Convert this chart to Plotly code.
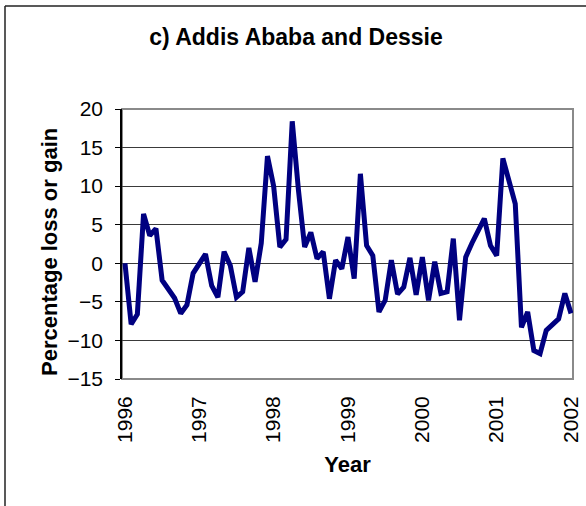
import plotly.graph_objects as go

# Monthly percentage loss or gain, Jan 1996 .. Jan 2002
values = [
    0.0, -7.9, -6.6, 6.4, 3.6, 4.5, -2.2, -3.5, -4.5, -6.5, -5.4, -1.3,
    0.0, 1.2, -2.9, -4.4, 1.5, -0.3, -4.4, -3.7, 2.0, -2.4, 2.6, 13.9,
    10.0, 2.1, 3.1, 18.4, 9.5, 2.1, 4.0, 0.6, 1.5, -4.6, 0.4, -0.7,
    3.4, -2.0, 11.6, 2.3, 1.0, -6.3, -4.8, 0.4, -4.0, -3.1, 0.7, -4.1,
    0.8, -4.8, 0.2, -3.9, -3.7, 3.2, -7.4, 0.8, 2.6, 4.2, 5.8, 2.3,
    1.0, 13.6, 10.5, 7.7, -8.3, -6.3, -11.3, -11.7, -8.7, -8.0, -7.2, -3.9,
    -6.5,
]
start_year = 1996
x_vals = [start_year + i / 12 for i in range(len(values))]
year_ticks = [1996, 1997, 1998, 1999, 2000, 2001, 2002]
year_labels = ["1996", "1997", "1998", "1999", "2000", "2001", "2002"]
y_ticks = [-15, -10, -5, 0, 5, 10, 15, 20]

W, H = 586, 506
ML, MR, MT, MB = 122, 13, 109, 127
PW = W - ML - MR
PH = H - MT - MB

def px_to_paper_x(px):
    return (px - ML) / PW

def px_to_paper_y(py):
    return (H - MB - py) / PH

FONT = "Liberation Sans, Arial, sans-serif"

fig = go.Figure()
fig.add_trace(go.Scatter(
    x=x_vals, y=values, mode="lines",
    line=dict(color="#000080", width=5),
    showlegend=False, hoverinfo="skip",
))

fig.update_layout(
    width=W, height=H,
    margin=dict(l=ML, r=MR, t=MT, b=MB, autoexpand=False),
    paper_bgcolor="white", plot_bgcolor="white",
    font=dict(family=FONT, color="black", size=21),
    title=dict(text="<b>c) Addis Ababa and Dessie</b>", x=px_to_paper_x(296), xref="paper",
               xanchor="center", y=1 - 37 / H, yanchor="middle",
               font=dict(size=23, family=FONT)),
)

fig.update_xaxes(
    range=[1996 - 3 / 451 * 6, 2002 + 2 / 451 * 6],
    tickvals=year_ticks, ticktext=year_labels, tickangle=-90,
    showgrid=False, zeroline=False, showline=False, ticks="",
    tickfont=dict(size=21, family=FONT), ticklabelstandoff=12,
    title=dict(text="<b>Year</b>", font=dict(size=22, family=FONT), standoff=14),
)
fig.update_yaxes(
    range=[-15, 20], tickvals=y_ticks,
    showgrid=True, gridcolor="#3a3a3a", gridwidth=1,
    zeroline=False, showline=True, linecolor="black", linewidth=1.5,
    ticks="outside", ticklen=5, tickcolor="black", tickwidth=1.2,
    tickfont=dict(size=21, family=FONT), ticklabelstandoff=8,
)

fig.add_annotation(text="<b>Percentage loss or gain</b>", textangle=-90,
                   xref="paper", yref="paper",
                   x=px_to_paper_x(49), y=px_to_paper_y(252),
                   xanchor="center", yanchor="middle", showarrow=False,
                   font=dict(size=22, family=FONT, color="black"))

# plot-area border (grey) and outer chart-area frame
fig.add_shape(type="rect", xref="paper", yref="paper", x0=0, x1=1, y0=0, y1=1,
              line=dict(color="#8a8a8a", width=2), layer="between")
fig.add_shape(type="line", xref="paper", yref="paper",
              x0=px_to_paper_x(5), x1=px_to_paper_x(5),
              y0=px_to_paper_y(6), y1=px_to_paper_y(520),
              line=dict(color="#222222", width=1.5))
fig.add_shape(type="line", xref="paper", yref="paper",
              x0=px_to_paper_x(5), x1=px_to_paper_x(600),
              y0=px_to_paper_y(6), y1=px_to_paper_y(6),
              line=dict(color="#222222", width=1.5))

fig.write_html("out.html", config={"displayModeBar": False},
               post_script="document.body.style.margin='0';")
